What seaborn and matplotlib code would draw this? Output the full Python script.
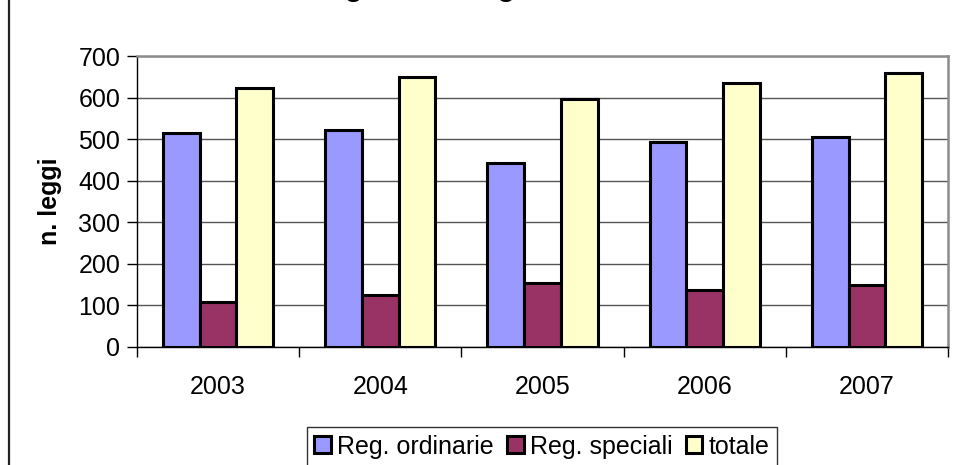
import pandas as pd
import numpy as np
import matplotlib
matplotlib.use('Agg')
import matplotlib.pyplot as plt
import seaborn as sns
from matplotlib.patches import Rectangle

# Data
anni = ['2003', '2004', '2005', '2006', '2007']
reg_ordinarie = [515, 522, 442, 493, 506]
reg_speciali = [108, 125, 153, 138, 148]
totale = [624, 650, 596, 634, 658]
serie = ['Reg. ordinarie', 'Reg. speciali', 'totale']
colori = ['#9999FF', '#993366', '#FFFFCC']

df = pd.DataFrame({
    'anno': anni * 3,
    'n': reg_ordinarie + reg_speciali + totale,
    'serie': [s for s in serie for _ in anni],
})

sns.set_style('white')
plt.rcParams['font.family'] = ['Liberation Sans', 'DejaVu Sans']
plt.rcParams['text.color'] = 'black'
plt.rcParams['axes.labelcolor'] = 'black'
plt.rcParams['xtick.color'] = 'black'
plt.rcParams['ytick.color'] = 'black'

fig = plt.figure(figsize=(9.55, 4.65), dpi=100)
ax = fig.add_axes([137 / 955, 1 - 347 / 465, 811 / 955, 291 / 465])

sns.barplot(data=df, x='anno', y='n', hue='serie', palette=colori,
            width=0.68, edgecolor='black', linewidth=2.2, saturation=1,
            ax=ax, zorder=3)

ax.set_ylim(0, 700)
ax.set_xlim(-0.5, 4.5)
ax.set_yticks(np.arange(0, 701, 100))
ax.yaxis.grid(True, color='#555555', linewidth=1, zorder=0)
ax.set_axisbelow(True)

# ticks between categories, labels at centres
ax.set_xticks(np.arange(-0.5, 5, 1), minor=True)
ax.tick_params(axis='x', which='major', length=0, labelsize=18, pad=20,
               labelcolor='black')
ax.tick_params(axis='x', which='minor', length=7, width=1, color='black',
               direction='out', bottom=True)
ax.tick_params(axis='y', length=7, width=1, color='black', direction='out',
               left=True, labelsize=18, pad=5, labelcolor='black')

ax.set_xlabel('')
ax.set_ylabel('n. leggi', fontsize=18, fontweight='bold', labelpad=12,
              color='black')

for side in ['left', 'bottom']:
    ax.spines[side].set_color('black')
    ax.spines[side].set_linewidth(1)
for side in ['top', 'right']:
    ax.spines[side].set_color('#8c8c8c')
    ax.spines[side].set_linewidth(1.8)

handles, labels = ax.get_legend_handles_labels()
ax.get_legend().remove()
leg = fig.legend(handles, labels, loc='upper center', ncol=3,
                 bbox_to_anchor=(542 / 955, 1 - 427 / 465), fontsize=18,
                 frameon=True, fancybox=False, edgecolor='black',
                 handlelength=0.65, handleheight=0.65, handletextpad=0.25,
                 columnspacing=0.55, borderpad=0.3, borderaxespad=0)
leg.get_frame().set_linewidth(1)
for h in leg.legend_handles:
    h.set_edgecolor('black')
    h.set_linewidth(2.2)

# outer chart frame (cut off on right and bottom)
fig.add_artist(Rectangle((9 / 955, -0.2), 1.2, 1.2 + (1 - 14 / 465),
                         transform=fig.transFigure, fill=False,
                         edgecolor='#222222', linewidth=1.6, clip_on=False))

# title, mostly above the visible area
fig.text(154 / 955, 1 + 4 / 465, 'Produzione legislativa regionale',
         fontsize=21, fontweight='bold', ha='left', va='baseline')

fig.savefig('out.png', dpi=100)
